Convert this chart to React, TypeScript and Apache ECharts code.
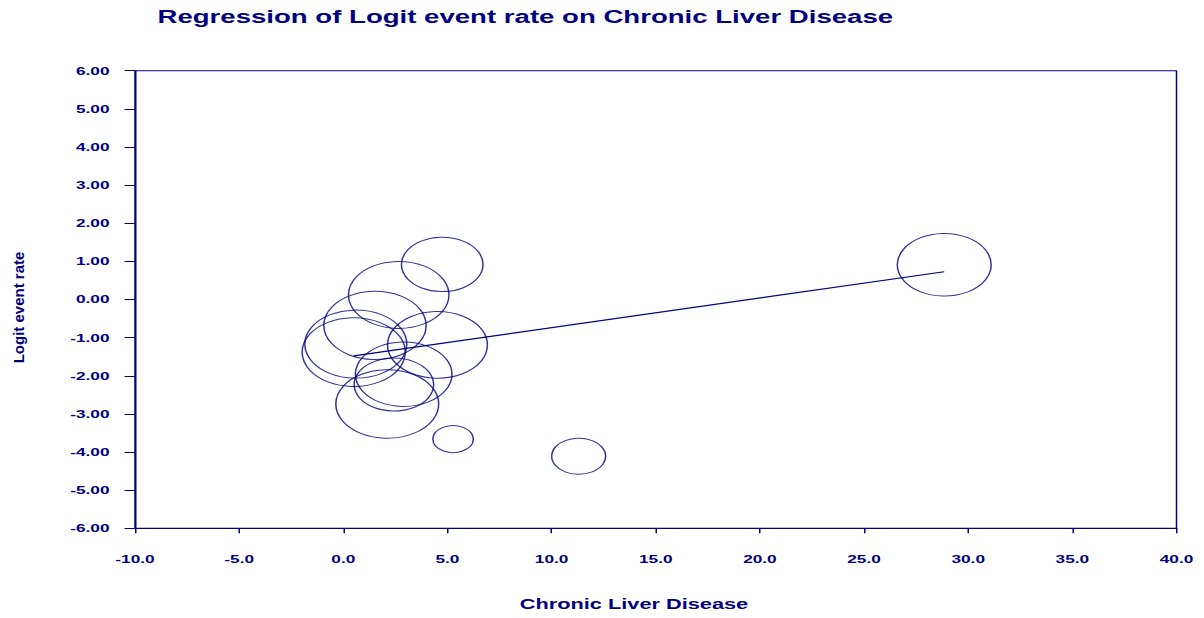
import React, { useEffect, useRef } from "react";
import * as echarts from "echarts";

// Study points: x = Chronic Liver Disease, y = Logit event rate, w = bubble weight (radius)
const studyX = [4.75, 2.66, 1.52, 0.60, 0.50, 4.52, 2.90, 2.43, 2.11, 5.27, 11.30, 28.85];
const studyY = [0.92, 0.12, -0.68, -1.17, -1.38, -1.19, -1.96, -2.23, -2.74, -3.66, -4.11, 0.91];
const studyW = [27.2, 33.5, 34.1, 34.0, 34.4, 33.3, 32.2, 26.5, 34.3, 13.5, 18.0, 31.3];

// Regression line (intercept, slope)
const regIntercept = -1.517;
const regSlope = 0.0778;

const xTicks = { min: -10, max: 40, interval: 5 };
const yTicks = { min: -6, max: 6, interval: 1 };

const TITLE = "Regression of Logit event rate on Chronic Liver Disease";
const X_NAME = "Chronic Liver Disease";
const Y_NAME = "Logit event rate";

const NAVY = "#000080";
const FONT = "'Liberation Sans', Arial, Helvetica, sans-serif";
const STRETCH = 1.5;
const W = 1204 / STRETCH;
const H = 618;

export default function App() {
  const ref = useRef<HTMLDivElement>(null);
  useEffect(() => {
    if (!ref.current) return;
    const chart = echarts.init(ref.current, undefined, { renderer: "svg", width: W, height: H });
    const pts = studyX.map((x, i) => [x, studyY[i], studyW[i]]);
    const xMin = Math.min(...studyX);
    const xMax = Math.max(...studyX);
    const line = [xMin, xMax].map((x) => [x, regIntercept + regSlope * x]);
    chart.setOption({
      animation: false,
      title: {
        text: TITLE,
        left: 100,
        top: 3,
        textStyle: { color: NAVY, fontSize: 18.4, fontWeight: "bold", fontFamily: FONT },
      },
      grid: {
        left: 90,
        right: W - 784.33,
        top: 70.7,
        bottom: H - 528.3,
        show: true,
        borderColor: NAVY,
        borderWidth: 1,
        backgroundColor: "transparent",
      },
      xAxis: {
        type: "value",
        min: xTicks.min,
        max: xTicks.max,
        interval: xTicks.interval,
        splitLine: { show: false },
        axisLine: { show: true, onZero: false, lineStyle: { color: NAVY, width: 1 } },
        axisTick: { show: true, inside: false, length: 5, lineStyle: { color: NAVY } },
        axisLabel: {
          color: NAVY,
          fontSize: 11.5,
          fontWeight: "bold",
          fontFamily: FONT,
          margin: 25,
          formatter: (v: number) => v.toFixed(1),
        },
        name: X_NAME,
        nameLocation: "middle",
        nameGap: 68,
        nameTextStyle: {
          color: NAVY,
          fontSize: 14.5,
          fontWeight: "bold",
          fontFamily: FONT,
          padding: [0, 29, 0, 0],
        },
      },
      yAxis: {
        type: "value",
        min: yTicks.min,
        max: yTicks.max,
        interval: yTicks.interval,
        splitLine: { show: false },
        axisLine: { show: true, onZero: false, lineStyle: { color: NAVY, width: 1 } },
        axisTick: { show: true, inside: false, length: 7, lineStyle: { color: NAVY } },
        axisLabel: {
          color: NAVY,
          fontSize: 11.5,
          fontWeight: "bold",
          fontFamily: FONT,
          margin: 17,
          formatter: (v: number) => v.toFixed(2),
        },
      },
      graphic: [
        {
          type: "text",
          x: 12.2,
          y: 307.5,
          rotation: Math.PI / 2,
          scaleX: 1,
          scaleY: 1 / STRETCH,
          style: {
            text: Y_NAME,
            fill: NAVY,
            fontSize: 15,
            fontWeight: "bold",
            fontFamily: FONT,
            align: "center",
            verticalAlign: "middle",
          },
        },
      ],
      series: [
        {
          type: "scatter",
          data: pts,
          symbol: "circle",
          symbolSize: (v: number[]) => v[2] * 2,
          itemStyle: { color: "rgba(0,0,0,0)", borderColor: NAVY, borderWidth: 1 },
          emphasis: { disabled: true },
          z: 2,
        },
        {
          type: "line",
          data: line,
          symbol: "none",
          lineStyle: { color: NAVY, width: 1.2 },
          z: 3,
        },
      ],
    });
    return () => chart.dispose();
  }, []);
  return (
    <div style={{ position: "fixed", left: 0, top: 0, width: 1204, height: 618, overflow: "hidden", background: "#fff" }}>
      <div
        ref={ref}
        style={{ width: W, height: H, transform: `scaleX(${STRETCH})`, transformOrigin: "0 0" }}
      />
    </div>
  );
}
